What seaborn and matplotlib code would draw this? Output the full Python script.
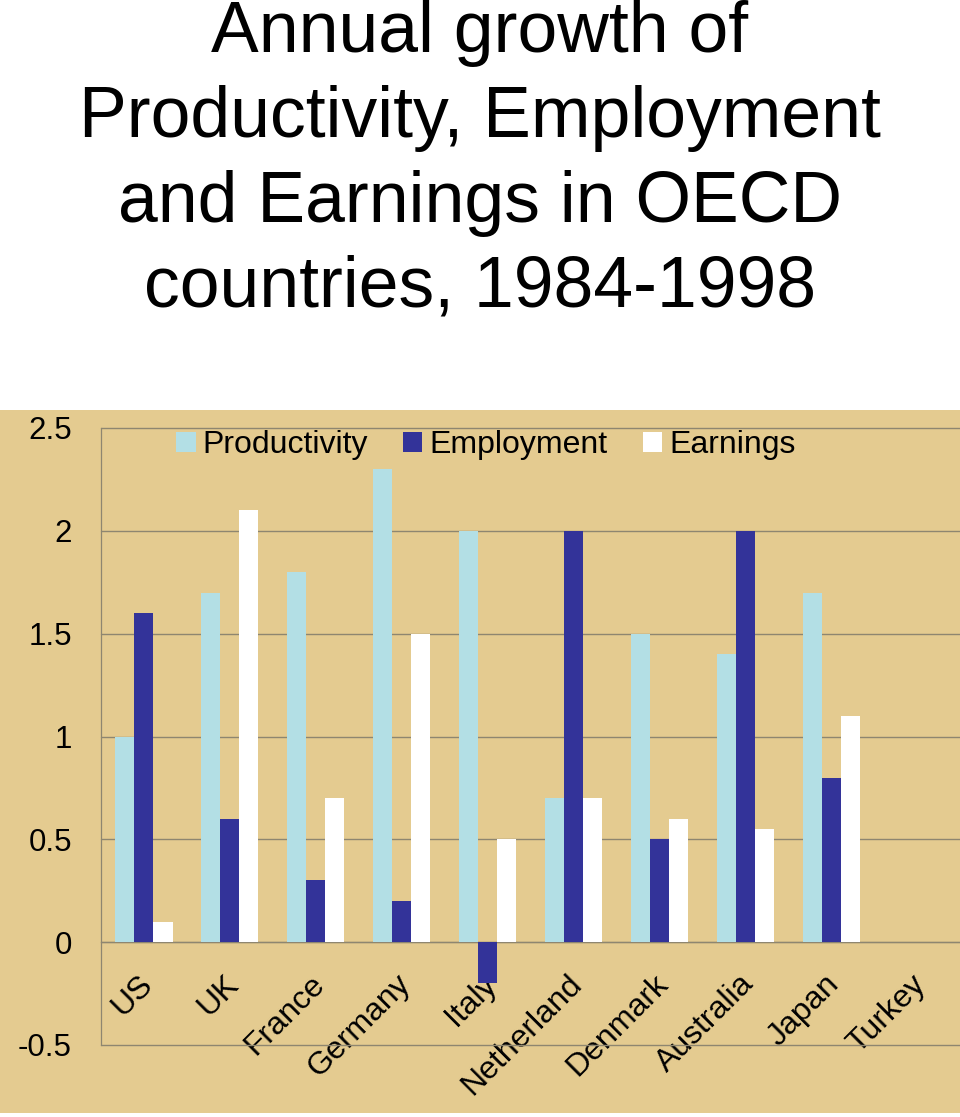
import numpy as np
import pandas as pd
import matplotlib
matplotlib.use("Agg")
import matplotlib.pyplot as plt
import matplotlib.transforms as mtransforms
from matplotlib.patches import Rectangle
import seaborn as sns

# ---- data ----
countries = ["US", "UK", "France", "Germany", "Italy", "Netherland",
             "Denmark", "Australia", "Japan", "Turkey"]
productivity = [1.0, 1.7, 1.8, 2.3, 2.0, 0.7, 1.5, 1.4, 1.7, np.nan]
employment = [1.6, 0.6, 0.3, 0.2, -0.2, 2.0, 0.5, 2.0, 0.8, np.nan]
earnings = [0.1, 2.1, 0.7, 1.5, 0.5, 0.7, 0.6, 0.55, 1.1, np.nan]
series_names = ["Productivity", "Employment", "Earnings"]
yticks = [-0.5, 0, 0.5, 1, 1.5, 2, 2.5]
ytick_labels = ["-0.5", "0", "0.5", "1", "1.5", "2", "2.5"]
title_lines = ["Annual growth of", "Productivity, Employment",
               "and Earnings in OECD", "countries, 1984-1998"]

df = pd.DataFrame({
    "country": countries * 3,
    "series": sum([[s] * len(countries) for s in series_names], []),
    "value": productivity + employment + earnings,
})

palette = {"Productivity": "#B3DFE5", "Employment": "#333399", "Earnings": "#FFFFFF"}

sns.set_style("white")
plt.rcParams["font.family"] = ["Liberation Sans", "DejaVu Sans"]
plt.rcParams["text.color"] = "black"
plt.rcParams["xtick.color"] = "black"
plt.rcParams["ytick.color"] = "black"

W, H = 960, 1117
fig = plt.figure(figsize=(W / 100, H / 100), dpi=100)
fig.patch.set_facecolor("white")

# papyrus-like background panel
fig.add_artist(Rectangle((0, (H - 1113) / H), 1, (1113 - 410) / H,
                         transform=fig.transFigure, facecolor="#E4CB90",
                         edgecolor="none", zorder=0))

ax = fig.add_axes([101 / W, (H - 1045) / H, (960 - 101) / W, (1045 - 428) / H])
ax.set_facecolor("none")
ax.set_zorder(1)

sns.barplot(data=df, x="country", y="value", hue="series", order=countries,
            hue_order=series_names, palette=palette, saturation=1, width=0.665,
            errorbar=None, ax=ax, linewidth=0, zorder=3)

ax.set_xlim(-0.5, len(countries) - 0.5)
ax.set_ylim(-0.5, 2.5)
ax.set_xlabel("")
ax.set_ylabel("")

grid_col = "#8E8670"
ax.set_yticks(yticks)
ax.set_yticklabels(ytick_labels, fontsize=22.5, color="black")
ax.yaxis.grid(True, color=grid_col, linewidth=1.0, zorder=1)
for gl in ax.get_ygridlines():
    gl.set_clip_on(False)
ax.set_axisbelow(True)
ax.tick_params(axis="y", length=6, width=0.8, color=grid_col, pad=15)

for s in ["top", "right"]:
    ax.spines[s].set_visible(False)
ax.spines["left"].set_color(grid_col)
ax.spines["left"].set_linewidth(0.9)
ax.spines["bottom"].set_position(("data", 0))
ax.spines["bottom"].set_color(grid_col)
ax.spines["bottom"].set_linewidth(0.9)

ax.set_xticks(range(len(countries)))
ax.set_xticklabels(countries, fontsize=23, rotation=45, ha="right",
                   va="center", rotation_mode="anchor", color="black")
ax.set_xticks(np.arange(0.5, len(countries) + 0.5, 1), minor=True)
ax.tick_params(axis="x", which="major", length=0, pad=27)
ax.tick_params(axis="x", which="minor", length=6, width=0.8, color=grid_col,
               direction="out")
offset = mtransforms.ScaledTranslation(4 / 100, 0, fig.dpi_scale_trans)
for lbl in ax.get_xticklabels():
    lbl.set_transform(lbl.get_transform() + offset)

handles, labels = ax.get_legend_handles_labels()
if ax.get_legend() is not None:
    ax.get_legend().remove()
leg = ax.legend(handles, labels, loc="center", bbox_to_anchor=(0.448, 0.972),
                ncol=3, frameon=False, fontsize=23, handlelength=0.6,
                handleheight=0.6, handletextpad=0.22, columnspacing=1.1,
                borderaxespad=0)
for t in leg.get_texts():
    t.set_color("black")

# title, one line per text
baselines = [52, 137, 222, 307]
for line, b in zip(title_lines, baselines):
    fig.text(0.5, (H - b) / H, line, ha="center", va="baseline",
             fontsize=51.5, color="black")

fig.savefig("out.png", dpi=100)
